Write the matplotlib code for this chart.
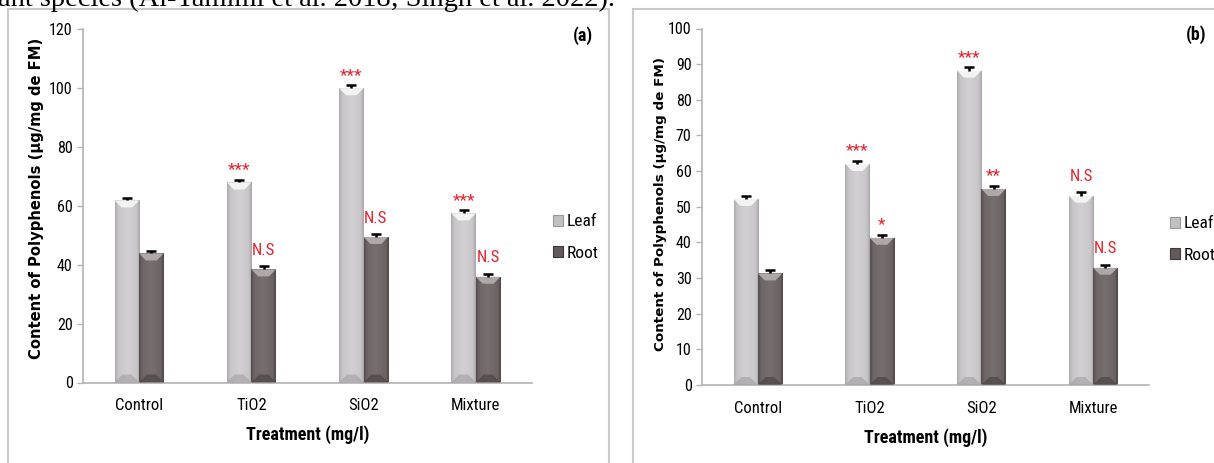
import numpy as np
import matplotlib
matplotlib.use("Agg")
import matplotlib.pyplot as plt
from matplotlib import font_manager
from matplotlib.patches import Polygon, Rectangle, Patch

# ---------------- data ----------------
categories = ["Control", "TiO2", "SiO2", "Mixture"]
series_names = ["Leaf", "Root"]

leaf_a = [61.8, 67.9, 99.9, 57.4]
root_a = [43.8, 38.4, 49.4, 35.9]
leaf_err_a = [1.0, 1.0, 1.1, 1.0]
root_err_a = [1.0, 1.0, 1.0, 1.0]
sig_leaf_a = ["", "***", "***", "***"]
sig_root_a = ["", "N.S", "N.S", "N.S"]
yticks_a = [0, 20, 40, 60, 80, 100, 120]

leaf_b = [52.2, 62.0, 88.2, 53.1]
root_b = [31.3, 41.3, 55.0, 32.9]
leaf_err_b = [0.9, 0.9, 0.9, 0.9]
root_err_b = [0.9, 0.9, 0.9, 0.9]
sig_leaf_b = ["", "***", "***", "N.S"]
sig_root_b = ["", "*", "**", "N.S"]
yticks_b = [0, 10, 20, 30, 40, 50, 60, 70, 80, 90, 100]

ylabel = "Content of Polyphenols (\u00b5g/mg de FM)"
xlabel = "Treatment (mg/l)"
header = "ant species (Al-Tamimi et al. 2018; Singh et al. 2022)."

# ---------------- fonts ----------------
avail = {f.name for f in font_manager.fontManager.ttflist}
narrow = "Lato"
for cand in ["Liberation Sans Narrow", "DejaVu Sans Condensed", "Roboto Condensed", "Lato"]:
    if cand in avail:
        narrow = cand
        break
NF = [narrow, "DejaVu Sans"]
SERIF = ["Liberation Serif", "DejaVu Serif"]

W, H = 1214, 463
fig = plt.figure(figsize=(W / 100, H / 100), dpi=100)
fig.patch.set_facecolor("white")

# header text (cut at top, as in the reference)
fig.text(-0.002, 1 - 6.5 / H, header, fontsize=20.5, family=SERIF, va="baseline", ha="left", color="black")

# panel frames
frame_col = "#c9c9c9"
fig.patches.append(Rectangle((8 / W, -0.05), (609 - 8) / W, 1.05 - 9 / H, transform=fig.transFigure,
                             fill=False, edgecolor=frame_col, linewidth=1.5))
fig.patches.append(Rectangle((633 / W, -0.05), 0.6, 1.05 - 9 / H, transform=fig.transFigure,
                             fill=False, edgecolor=frame_col, linewidth=1.5))

LEAF_GRAD = [(0.0, "#acaaac"), (0.12, "#c6c4c6"), (0.5, "#d2d0d2"), (0.88, "#c8c6c8"), (1.0, "#a8a6a8")]
ROOT_GRAD = [(0.0, "#524b4b"), (0.12, "#6e6666"), (0.5, "#776f6f"), (0.88, "#6c6464"), (1.0, "#4e4747")]


def grad_img(stops, n=64):
    from matplotlib.colors import to_rgb
    xs = np.linspace(0, 1, n)
    pos = [s[0] for s in stops]
    cols = np.array([to_rgb(s[1]) for s in stops])
    img = np.stack([np.interp(xs, pos, cols[:, k]) for k in range(3)], axis=-1)
    return img[np.newaxis, :, :]


def panel(rect, leaf, root, leaf_err, root_err, sig_leaf, sig_root, yticks, tag,
          ylab_xy, ylab_size, leg_xy, tag_xy):
    ax = fig.add_axes(rect)
    x = np.arange(len(categories))
    w = 0.218
    ymax = yticks[-1]
    ax_h_px = rect[3] * H
    upp = ymax / ax_h_px  # data units per pixel

    specs = [(leaf, leaf_err, sig_leaf, -w / 2, LEAF_GRAD, "#f6f6f6", "#a09ea0"),
             (root, root_err, sig_root, w / 2, ROOT_GRAD, "#b3acac", "#463f3f")]
    for vals, errs, sigs, off, grad, topc, botc in specs:
        bars = ax.bar(x + off, vals, width=w, color="none", edgecolor="none", zorder=2)
        img = grad_img(grad)
        for p in bars.patches:
            x0, bw, h = p.get_x(), p.get_width(), p.get_height()
            im = ax.imshow(img, extent=[x0, x0 + bw, 0, h], aspect="auto", zorder=2,
                           interpolation="bilinear")
            im.set_clip_path(p)
            d = 7 * upp
            ax.add_patch(Polygon([(x0, h), (x0 + bw, h), (x0 + 0.72 * bw, h - d), (x0 + 0.28 * bw, h - d)],
                                 closed=True, facecolor=topc, edgecolor="none", zorder=3, alpha=0.95))
            db = 8 * upp
            ax.add_patch(Polygon([(x0, 0), (x0 + bw, 0), (x0 + 0.68 * bw, db), (x0 + 0.32 * bw, db)],
                                 closed=True, facecolor=botc, edgecolor="none", zorder=3, alpha=0.6))
        eb = ax.errorbar(x + off, vals, yerr=[np.zeros(len(vals)), errs], fmt="none", ecolor="black",
                         elinewidth=1.8, capsize=3.5, capthick=1.8, zorder=4)
        caps = eb[1]
        if len(caps) == 2:
            caps[0].set_visible(False)
        for xi, v, e, s in zip(x + off, vals, errs, sigs):
            if not s:
                continue
            if s.startswith("N"):
                ax.annotate(s, (xi, v + e), xytext=(0, 11.5), textcoords="offset points",
                            ha="center", va="center", color="#e8202a", fontsize=12, family=NF)
            else:
                ax.annotate(s, (xi, v + e), xytext=(0, 7), textcoords="offset points",
                            ha="center", va="center", color="#e8202a", fontsize=12.5, family=NF)

    ax.set_xlim(-0.5, len(categories) - 0.5)
    ax.set_ylim(0, ymax)
    ax.set_yticks(yticks)
    ax.set_yticklabels([str(t) for t in yticks], family=NF, fontsize=11.5)
    ax.set_xticks(x)
    ax.set_xticklabels(categories, family=NF, fontsize=12)
    for sp in ("top", "right"):
        ax.spines[sp].set_visible(False)
    for sp in ("left", "bottom"):
        ax.spines[sp].set_color("#b3b3b3")
        ax.spines[sp].set_linewidth(1.2)
    ax.tick_params(axis="y", length=4, width=1.0, color="#b3b3b3", pad=3.5)
    ax.tick_params(axis="x", length=0, pad=11.5)
    ax.set_facecolor("none")

    ax.set_ylabel(ylabel, fontsize=ylab_size, fontweight="bold", family="DejaVu Sans")
    ax.yaxis.set_label_coords(*ylab_xy)
    ax.set_xlabel(xlabel, fontsize=13, fontweight="bold", family=NF)
    ax.xaxis.set_label_coords(0.5, -0.12)

    handles = [Patch(facecolor="#c2c0c2", edgecolor="#9a989a", linewidth=0.8),
               Patch(facecolor="#625a5a", edgecolor="#3e3838", linewidth=0.8)]
    fig.legend(handles, series_names, loc="center left", bbox_to_anchor=leg_xy,
               frameon=False, prop={"family": NF, "size": 12.5}, handlelength=0.58,
               handleheight=0.58, handletextpad=0.2, labelspacing=0.95, borderpad=0, borderaxespad=0)
    fig.text(tag_xy[0], tag_xy[1], tag, fontsize=13, fontweight="bold", family=NF,
             ha="center", va="center")
    return ax


panel([83 / W, 1 - 382.5 / H, 449 / W, 353.5 / H], leaf_a, root_a, leaf_err_a, root_err_a,
      sig_leaf_a, sig_root_a, yticks_a, "(a)", (-0.087, 0.522), 10.6,
      (553 / W, 1 - 237.5 / H), (583 / W, 1 - 36 / H))
panel([702 / W, 1 - 385 / H, 447 / W, 356.5 / H], leaf_b, root_b, leaf_err_b, root_err_b,
      sig_leaf_b, sig_root_b, yticks_b, "(b)", (-0.078, 0.508), 9.7,
      (1170 / W, 1 - 239.5 / H), (1196 / W, 1 - 35 / H))

fig.savefig("out.png", dpi=100, facecolor="white")
